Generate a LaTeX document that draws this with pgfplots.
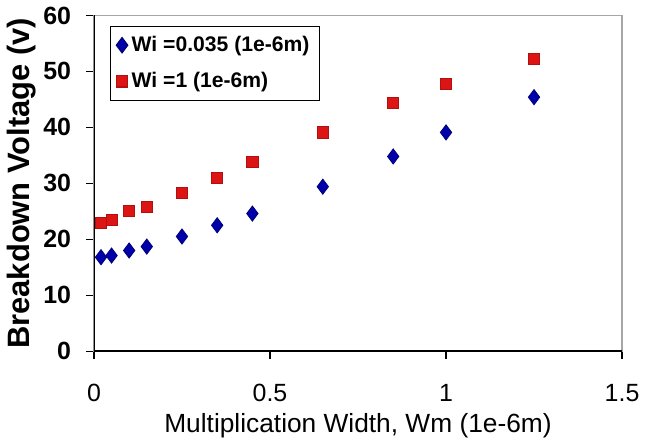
\documentclass[border=0pt]{standalone}
\usepackage{pgfplots}
\pgfplotsset{compat=1.18}
\usepackage{fontspec}
\setmainfont{Liberation Sans}
\definecolor{dblue}{RGB}{0,0,170}
\definecolor{mred}{RGB}{220,20,20}
\begin{document}
\begin{tikzpicture}[font=\fontsize{11}{13}\selectfont]
\begin{axis}[
    width=265pt, height=168.5pt,
    scale only axis,
    xmin=0, xmax=1.5, ymin=0, ymax=60,
    xtick={0,0.5,1,1.5},
    ytick={0,10,...,60},
    xticklabels={0,0.5,1,1.5},
    tick align=outside,
    tick pos=left,
    major tick length=4pt,
    tick style={black, line width=0.6pt},
    axis line style={gray!70, line width=0.6pt},
    /pgf/number format/assume math mode=true,
    yticklabel style={font=\fontsize{12.5}{14}\selectfont\bfseries, xshift=-4pt},
    xticklabel style={font=\fontsize{12.5}{14}\selectfont, yshift=-9pt},
    ylabel={\textbf{Breakdown Voltage (v)}},
    ylabel style={font=\fontsize{15.5}{17}\selectfont, yshift=-3pt},
    xlabel={Multiplication Width, Wm (1e-6m)},
    xlabel style={font=\fontsize{13.2}{15}\selectfont, yshift=1pt},
    legend style={at={(rel axis cs:0.03,0.97)}, anchor=north west,
        draw=black, line width=0.6pt, font=\fontsize{10.6}{12}\selectfont\bfseries,
        inner xsep=3pt, inner ysep=3pt, row sep=5pt},
    legend cell align=left,
]
\draw[black, line width=0.9pt] (rel axis cs:0,1) -- (rel axis cs:0,0) -- (rel axis cs:1,0);
\addplot[only marks, mark=diamond*, mark size=3.8pt, color=dblue, mark options={fill=dblue, draw=dblue!70!black}]
    coordinates {
        (0.02,16.8) (0.05,17.1) (0.1,18.0) (0.15,18.7) (0.25,20.5)
        (0.35,22.5) (0.45,24.6) (0.65,29.4) (0.85,34.8) (1.0,39.1) (1.25,45.4)
    };
\addplot[only marks, mark=square*, mark size=2.8pt, color=mred, mark options={fill=mred, draw=mred!80!black}]
    coordinates {
        (0.02,23.0) (0.05,23.5) (0.1,25.0) (0.15,25.8) (0.25,28.3)
        (0.35,31.0) (0.45,33.8) (0.65,39.1) (0.85,44.4) (1.0,47.8) (1.25,52.2)
    };
\legend{Wi =0.035 (1e-6m), Wi =1 (1e-6m)}
\end{axis}
\end{tikzpicture}
\end{document}
